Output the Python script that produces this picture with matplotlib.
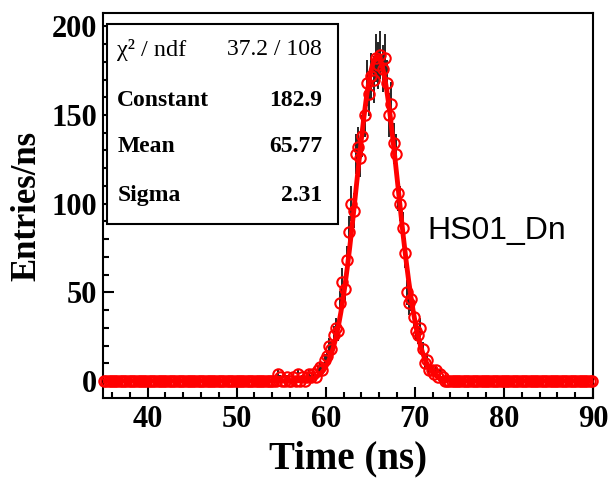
import numpy as np
import matplotlib.pyplot as plt

# histogram: 0.25 ns bins from 35 to 90 ns, contents in entries/ns
bin_lo, bin_hi, bin_w = 35.0, 90.0, 0.25
entries = [0] * 78 + [
    4, 2, 0, 0, 2, 0, 0, 2, 0, 4,
    0, 2, 0, 2, 4, 2, 4, 2, 6, 8,
    6, 12, 14, 20, 18, 26, 30, 28, 44, 56,
    52, 68, 84, 100, 96, 128, 132, 126, 138, 150,
    168, 162, 172, 170, 182, 178, 184, 176, 182, 168,
    150, 156, 134, 128, 106, 100, 86, 72, 50, 44,
    46, 36, 28, 26, 30, 18, 10, 12, 6, 6,
    4, 6, 2, 4, 2, 0,
] + [0] * 66

# gaussian fit results shown in the stats box
fit_const, fit_mean, fit_sigma = 182.9, 65.77, 2.31
stats_names = ['Constant', 'Mean', 'Sigma']
stats_values = ['182.9', '65.77', '2.31']
chi2_text = '37.2 / 108'
hist_name = 'HS01_Dn'

entries = np.array(entries, dtype=float)
centers = np.arange(bin_lo + bin_w / 2, bin_hi, bin_w)
errors = np.sqrt(entries)

plt.rcParams['font.family'] = 'Liberation Serif'
plt.rcParams['font.weight'] = 'bold'

fig = plt.figure(figsize=(6.08, 4.78), dpi=100)
ax = fig.add_axes([103 / 608, 1 - 398 / 478, 490 / 608, 385 / 478])

ax.errorbar(centers, entries, yerr=errors, fmt='none', ecolor='black',
            elinewidth=1.2, capsize=0, zorder=2)
xf = np.linspace(bin_lo, bin_hi, 1000)
yf = fit_const * np.exp(-0.5 * ((xf - fit_mean) / fit_sigma) ** 2)
ax.plot(xf, yf, color='red', lw=3.5, zorder=3)
ax.plot(centers, entries, 'o', mfc='none', mec='red', ms=7.5, mew=1.5,
        zorder=4, clip_on=False)

ax.set_xlim(35, 90)
ax.set_ylim(-9.6, 207.5)
ax.set_xticks([40, 50, 60, 70, 80, 90])
ax.set_xticks(np.arange(36, 91, 2), minor=True)
ax.set_yticks([0, 50, 100, 150, 200])
ax.set_yticks(np.arange(0, 201, 10), minor=True)
ax.tick_params(which='both', direction='in', width=1.5, labelsize=22,
               top=False, right=False)
ax.tick_params(which='major', length=8)
ax.tick_params(which='minor', length=4)
ax.tick_params(axis='x', pad=5)
ax.tick_params(axis='y', pad=4)
for s in ax.spines.values():
    s.set_linewidth(1.5)

ax.set_xlabel('Time (ns)', fontsize=28, fontweight='bold')
ax.set_ylabel('Entries/ns', fontsize=25, fontweight='bold')
ax.xaxis.set_label_coords(0.5, -0.11)
ax.yaxis.set_label_coords(-0.122, 0.5)

# stats box
box = plt.Rectangle((0.008, 0.452), 0.472, 0.519, transform=ax.transAxes,
                    fill=True, facecolor='white', edgecolor='black', lw=1.5,
                    zorder=5)
ax.add_patch(box)
rows_y = [0.904, 0.774, 0.652, 0.525]
ax.text(0.029, rows_y[0], 'χ² / ndf', transform=ax.transAxes,
        fontsize=17.5, fontweight='normal', va='center', ha='left', zorder=6)
ax.text(0.447, rows_y[0], chi2_text, transform=ax.transAxes,
        fontsize=17, fontweight='normal', va='center', ha='right', zorder=6)
for name, val, y in zip(stats_names, stats_values, rows_y[1:]):
    ax.text(0.029, y, name, transform=ax.transAxes, fontsize=17,
            va='center', ha='left', zorder=6)
    ax.text(0.447, y, val, transform=ax.transAxes, fontsize=17,
            va='center', ha='right', zorder=6)

ax.text(0.661, 0.434, hist_name, transform=ax.transAxes, fontsize=23,
        family='Liberation Sans', fontweight='normal', va='center', ha='left')

fig.savefig('out.png', dpi=100)
